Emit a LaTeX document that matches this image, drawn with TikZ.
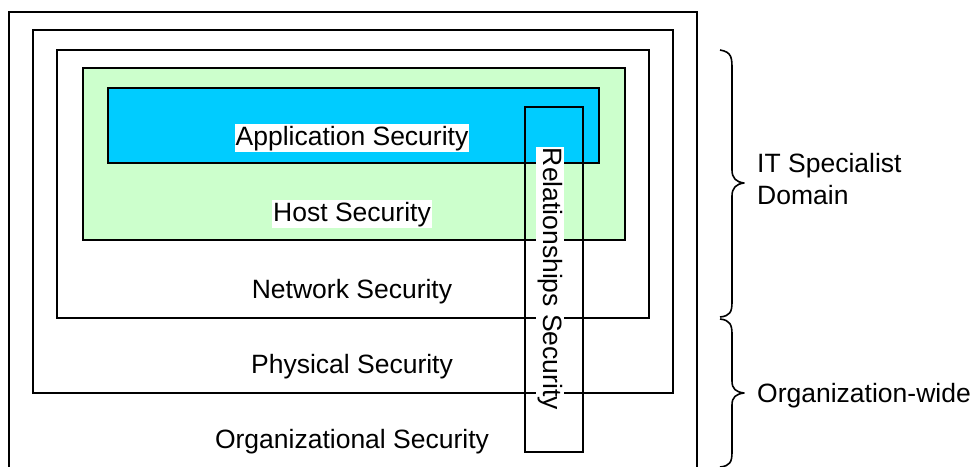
\documentclass[tikz,border=0pt]{standalone}
\usepackage{fontspec}
\setmainfont{Liberation Sans}
\definecolor{appblue}{HTML}{00CCFF}
\definecolor{hostgreen}{HTML}{CCFFCC}
\begin{document}
\begin{tikzpicture}[x=1pt,y=-1pt,
  layer/.style={draw=black,line width=2pt},
  lbl/.style={font=\fontsize{26.5}{29}\selectfont,inner xsep=1pt,inner ysep=2pt,text height=19pt,text depth=5pt},
  wlbl/.style={lbl,fill=white},
  side/.style={font=\fontsize{26.5}{32}\selectfont,anchor=west,align=left,inner sep=0pt},
  brace/.style={draw=black,line width=1.6pt,line join=round}]
\useasboundingbox (0,0) rectangle (972,466);

% outer organisational frame, open at the bottom
\draw[layer] (9,470) -- (9,12) -- (697,12) -- (697,470);
% physical, network, host and application layers
\draw[layer] (33,30) rectangle (673,393);
\draw[layer] (57,50) rectangle (649,318);
\draw[layer,fill=hostgreen] (83,68) rectangle (625,240);
\draw[layer,fill=appblue] (108,88) rectangle (599,163);
% cross-cutting relationships column
\draw[layer] (525,107) rectangle (583,452);

% layer labels
\node[wlbl] (app) at (352,138) {Application Security};
\node[wlbl] (host) at (352,214) {Host Security};
\node[lbl] (net) at (352,291) {Network Security};
\node[lbl] (phys) at (352,366) {Physical Security};
\node[lbl] (org) at (352,441) {Organizational Security};
\node[wlbl,rotate=-90] (rel) at (550,279) {Relationships Security};

% braces on the right
\draw[brace] (720,50) .. controls (732,52) and (732,58) .. (732,70)
  -- (732,170) .. controls (732,178) and (736,182) .. (744,183)
  .. controls (736,184) and (732,188) .. (732,196)
  -- (732,302) .. controls (732,312) and (730,316) .. (720,317);
\draw[brace] (720,319) .. controls (730,320) and (732,325) .. (732,334)
  -- (732,381) .. controls (732,389) and (736,392) .. (744,393)
  .. controls (736,394) and (732,397) .. (732,405)
  -- (732,452) .. controls (732,462) and (730,466) .. (720,467);

\node[side] (itdom) at (757,179) {IT Specialist\\Domain};
\node[side] (orgwide) at (757,396) {Organization-wide};
\end{tikzpicture}
\end{document}
